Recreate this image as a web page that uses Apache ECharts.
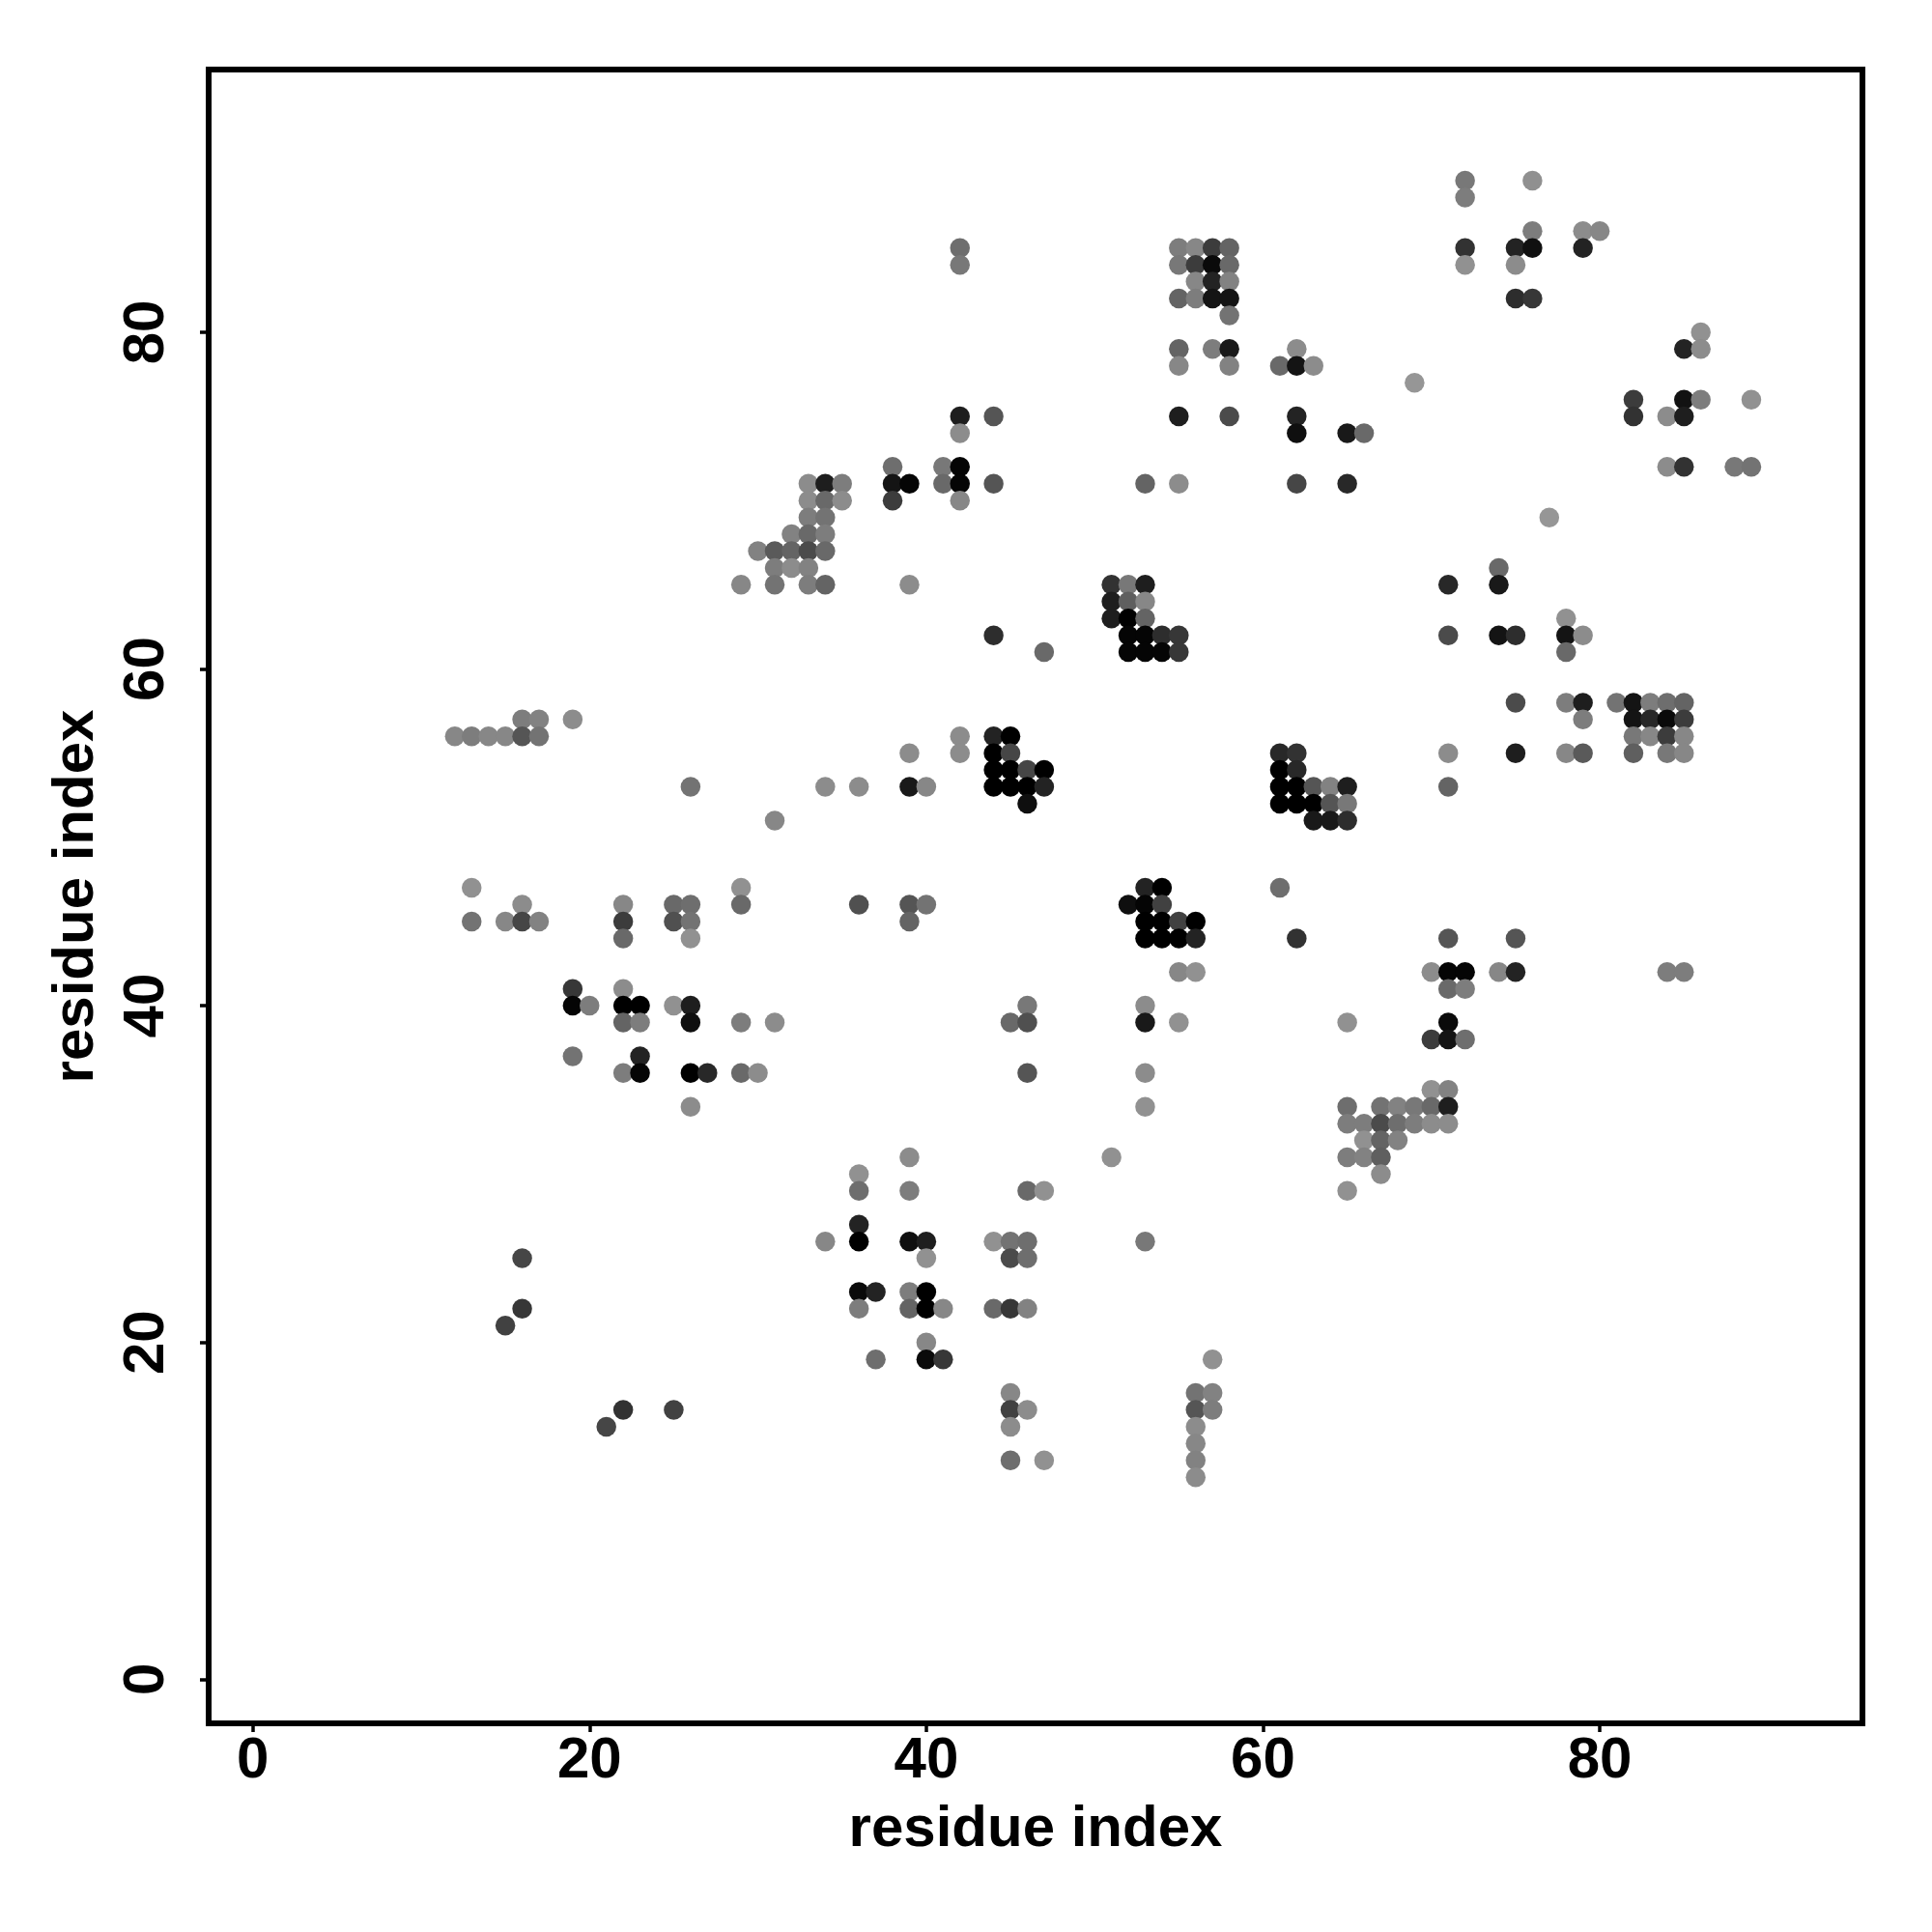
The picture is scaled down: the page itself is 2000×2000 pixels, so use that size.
<!DOCTYPE html>
<html>
<head>
<meta charset="utf-8">
<style>html,body{margin:0;padding:0;background:#fff}#c{width:2000px;height:2000px}</style>
<script src="https://cdn.jsdelivr.net/npm/echarts@6/dist/echarts.min.js"></script>
</head>
<body>
<div id="c"></div>
<script>
const tickValues = [0, 20, 40, 60, 80];
const axisTitle = 'residue index';
const rowIndex = [89,88,86,85,84,83,82,81,80,79,78,77,76,75,74,72,71,70,69,68,67,66,65,64,63,62,61,58,57,56,55,54,53,52,51,47,46,45,44,42,41,40,39,38,37,36,35,34,33,32,31,30,29,27,26,25,23,22,21,20,19,17,16,15,14,13,12];
const rowResidues = [
 [72,76],[72],[76,79,80],
 [42,55,56,57,58,72,75,76,79],[42,55,56,57,58,72,75],[56,57,58],[55,56,57,58,75,76],[58],[86],
 [55,57,58,62,85,86],[55,58,61,62,63],[69],[82,85,86,89],
 [42,44,55,58,62,82,84,85],[42,62,65,66],[38,41,42,84,85,88,89],
 [33,34,35,38,39,41,42,44,53,55,62,65],[33,34,35,38,42],[33,34,77],[32,33,34],[30,31,32,33,34],[31,32,33,74],
 [29,31,33,34,39,51,52,53,71,74],[51,52,53],[51,52,53,78],[44,52,53,54,55,71,74,75,78,79],[47,52,53,54,55,78],
 [75,78,79,81,82,83,84,85],[16,17,19,79,82,83,84,85],[12,13,14,15,16,17,42,44,45,82,83,84,85],
 [39,42,44,45,61,62,71,75,78,79,82,84,85],[44,45,46,47,61,62],[26,34,36,39,40,44,45,46,47,61,62,63,64,65,71],
 [46,61,62,63,64,65],[31,63,64,65],[13,29,53,54,61],[16,22,25,26,29,36,39,40,52,53,54],
 [13,15,16,17,22,25,26,39,53,54,55,56],[22,26,53,54,55,56,62,71,75],[55,56,70,71,72,74,75,84,85],[19,22,71,72],
 [19,20,22,23,25,26,46,53],[22,23,26,29,31,45,46,53,55,65,71],[70,71,72],[19,23],[22,23,26,27,29,30,46,53],[70,71],
 [26,53,65,67,68,69,70,71],[65,66,67,68,69,70,71],[66,67,68],[39,51,65,66,67],[36,67],[36,39,46,47,65],[36],
 [34,36,39,40,44,45,46,53],[16,40,45,46],[36,37,39,40],[16,36,39,40,41,44,45,46],[15],[40],[37,40,41,57],
 [45,56,57],[22,25,45,46,56,57],[21,45,56],[56],[45,47,56],[56]
];
const rowGrays = [
 [120,144],[125],[125,140,135],
 [110,125,135,60,100,50,35,16,35],[120,120,60,10,105,145,140],[135,35,130],[100,125,20,20,45,55],[115],[145],
 [100,125,25,140,35,140],[135,130,105,20,140],[150],[60,18,125,145],
 [30,85,30,75,35,50,140,30],[140,15,25,105],[110,120,5,140,50,120,115],
 [140,30,125,20,5,105,5,85,100,140,70,40],[140,105,140,60,135],[125,115,150],[130,105,125],[130,90,100,75,105],[125,140,130,105],
 [135,115,125,100,140,50,120,30,40,25],[30,95,135],[30,0,100,145],[45,5,5,45,55,75,20,45,20,140],[105,5,5,5,55,105],
 [75,125,30,115,20,125,110,100],[125,130,140,125,20,40,10,60],[135,125,135,135,85,115,140,35,0,120,135,60,135],
 [140,140,0,70,40,50,140,30,135,90,95,120,135],[0,0,70,0,0,40],[115,140,140,25,135,0,0,0,35,0,0,85,130,30,100],
 [15,0,0,0,85,120],[135,25,25,45],[145,145,35,0,110],[140,135,105,110,105,80,85,115,15,5,65],
 [115,135,70,130,60,80,115,100,0,0,65,0],[105,145,0,0,0,35,50,85,85],[135,145,140,5,5,135,35,125,125],[55,140,105,125],
 [5,125,0,0,145,30,120,140],[100,125,15,125,140,105,80,25,145,145,10],[60,20,110],[115,35],[125,5,0,40,105,140,85,140],[145,130],
 [140,145,110,115,130,120,105,30],[125,125,75,110,125,140,140],[145,100,130],[140,145,125,130,95],[145,140],[110,125,105,145,145],[35],
 [135,0,15,30,145,115,110,120],[70,145,75,110],[10,35,125,0],[55,125,100,0,135,105,55,130],[65],[135],[110,10,55,145],
 [135,115,130],[50,65,65,140,85,125],[70,140,140],[135],[110,145,130],[140]
];

const points = [];
rowIndex.forEach((y, r) => {
  rowResidues[r].forEach((x, k) => {
    const g = rowGrays[r][k];
    points.push({ value: [x, y], itemStyle: { color: `rgb(${g},${g},${g})`, opacity: 1 } });
  });
});

const font = { fontFamily: 'Liberation Sans', fontWeight: 'bold', fontSize: 60, color: '#000' };
const AXIS_MIN = -2.62, AXIS_MAX = 95.6;

function axis(extra) {
  return Object.assign({
    type: 'value', min: AXIS_MIN, max: AXIS_MAX,
    name: axisTitle, nameLocation: 'middle',
    nameTextStyle: Object.assign({}, font),
    splitLine: { show: false }, axisLine: { show: false, onZero: false }
  }, extra);
}

const chart = echarts.init(document.getElementById('c'), null, { renderer: 'canvas', width: 2000, height: 2000 });
chart.setOption({
  animation: false,
  backgroundColor: '#fff',
  grid: { left: 216, top: 72, width: 1712, height: 1712, show: true, borderColor: '#000', borderWidth: 6, backgroundColor: 'transparent' },
  xAxis: axis({
    nameGap: 80,
    axisTick: { show: true, length: 9, lineStyle: { color: '#000', width: 3.5 }, customValues: tickValues },
    axisLabel: Object.assign({ margin: 9, customValues: tickValues, formatter: v => String(v) }, font)
  }),
  yAxis: axis({
    nameGap: 107,
    axisTick: { show: true, length: 9, lineStyle: { color: '#000', width: 3.5 }, customValues: tickValues },
    axisLabel: Object.assign({ rotate: 90, margin: 34, customValues: tickValues, formatter: v => String(v) }, font)
  }),
  series: [{ type: 'scatter', symbol: 'circle', symbolSize: 20.5, silent: true, itemStyle: { opacity: 1 }, data: points }]
});
</script>
</body>
</html>
